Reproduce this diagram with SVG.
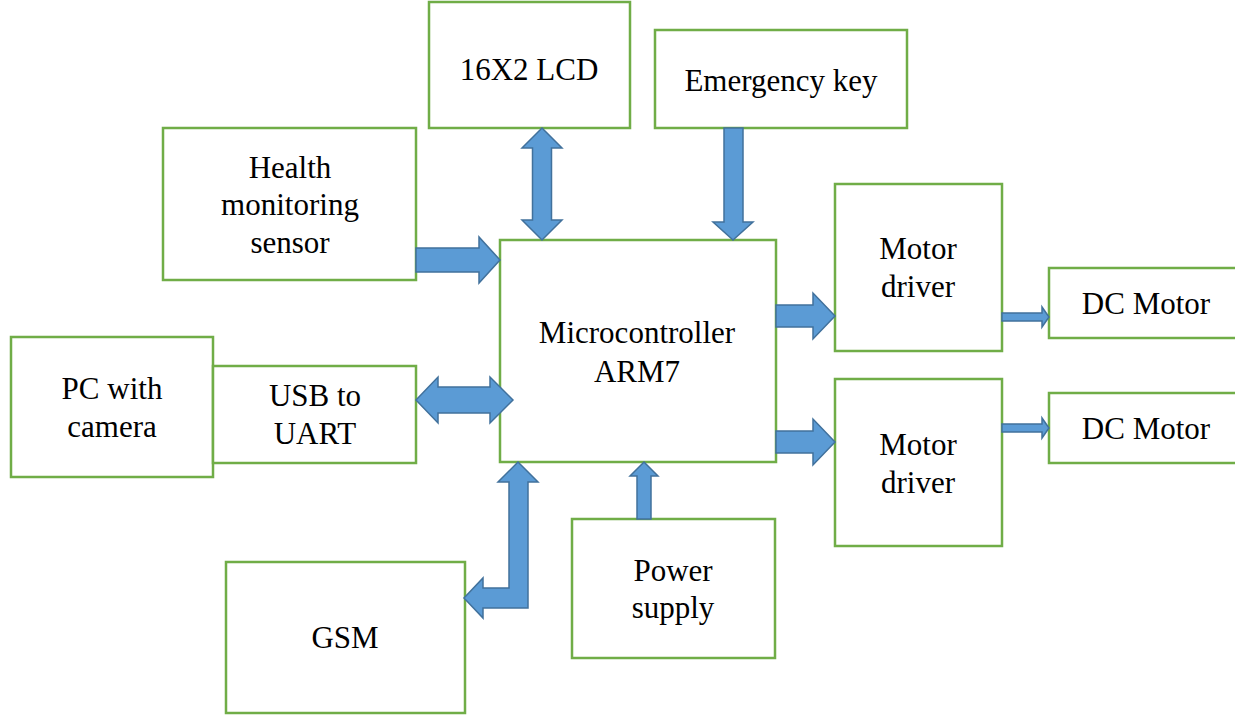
<svg xmlns="http://www.w3.org/2000/svg" width="1235" height="715" viewBox="0 0 1235 715">
<style>
.box{fill:#fff;stroke:#70AD47;stroke-width:2.5}
.arr{fill:#5B9BD5;stroke:#41719C;stroke-width:1.5;stroke-linejoin:miter}
text{font-family:"Liberation Serif","Times New Roman",serif;font-size:31px;fill:#000;text-anchor:middle}
</style>
<rect width="1235" height="715" fill="#fff"/>
<g id="lcd"><rect class="box" x="429" y="2" width="201" height="126"/><text x="529" y="80">16X2 LCD</text></g>
<g id="emergency"><rect class="box" x="655" y="30" width="252" height="98"/><text x="781" y="91">Emergency key</text></g>
<g id="health"><rect class="box" x="163" y="128" width="253" height="152"/><text x="290" y="178">Health</text><text x="290" y="215">monitoring</text><text x="290" y="253">sensor</text></g>
<g id="mcu"><rect class="box" x="500" y="240" width="276" height="222"/><text x="637" y="343">Microcontroller</text><text x="637" y="382">ARM7</text></g>
<g id="md1"><rect class="box" x="835" y="184" width="167" height="167"/><text x="918" y="259">Motor</text><text x="918" y="297">driver</text></g>
<g id="md2"><rect class="box" x="835" y="379" width="167" height="167"/><text x="918" y="455">Motor</text><text x="918" y="493">driver</text></g>
<g id="dc1"><rect class="box" x="1049" y="268" width="200" height="70"/><text x="1146" y="314">DC Motor</text></g>
<g id="dc2"><rect class="box" x="1049" y="393" width="200" height="70"/><text x="1146" y="439">DC Motor</text></g>
<g id="pc"><rect class="box" x="11" y="337" width="202" height="140"/><text x="112" y="399">PC with</text><text x="112" y="437">camera</text></g>
<g id="usb"><rect class="box" x="213" y="366" width="203" height="97"/><text x="315" y="406">USB to</text><text x="315" y="444">UART</text></g>
<g id="gsm"><rect class="box" x="226" y="562" width="239" height="151"/><text x="345" y="648">GSM</text></g>
<g id="power"><rect class="box" x="572" y="519" width="203" height="139"/><text x="673" y="581">Power</text><text x="673" y="618">supply</text></g>
<g id="connectors">
<path class="arr" d="M542,128 L562,148 L551.5,148 L551.5,220 L562,220 L542,240 L522,220 L532.5,220 L532.5,148 L522,148 Z"/>
<path class="arr" d="M724,128 L743,128 L743,222 L753,222 L733,240 L713,222 L724,222 Z"/>
<path class="arr" d="M416,248 L479,248 L479,237 L500,260 L479,283 L479,272 L416,272 Z"/>
<path class="arr" d="M416,400 L438,377 L438,387 L490,387 L490,377 L513,400 L490,423 L490,413 L438,413 L438,423 Z"/>
<path class="arr" d="M776,305 L813,305 L813,293 L835,316 L813,339 L813,327 L776,327 Z"/>
<path class="arr" d="M776,431 L813,431 L813,419 L835,442 L813,465 L813,453 L776,453 Z"/>
<path class="arr" d="M1002,313 L1042,313 L1042,307 L1049,317 L1042,327 L1042,321 L1002,321 Z"/>
<path class="arr" d="M1002,424 L1042,424 L1042,418 L1049,428 L1042,438 L1042,432 L1002,432 Z"/>
<path class="arr" d="M637,519 L637,476 L630,476 L644,462 L658,476 L651,476 L651,519 Z"/>
<path class="arr" d="M518,462 L538,482 L528,482 L528,608 L483,608 L483,618 L464,598 L483,578 L483,588 L509,588 L509,482 L498,482 Z"/>
</g>
</svg>
